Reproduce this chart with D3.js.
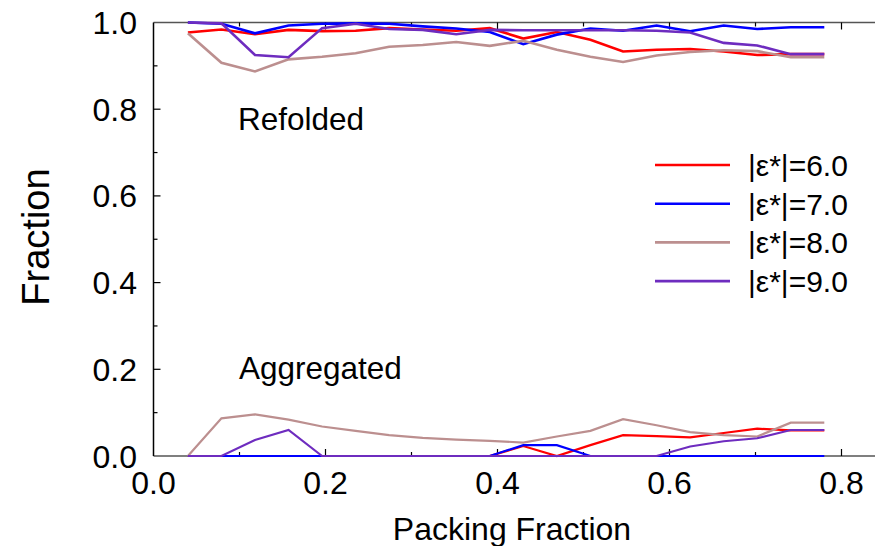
<!DOCTYPE html>
<html>
<head>
<meta charset="utf-8">
<script src="https://cdn.jsdelivr.net/npm/d3@7"></script>
<style>
  body { margin: 0; background: #fff; }
  svg { display: block; font-family: "Liberation Sans", Arial, sans-serif; }
</style>
</head>
<body>
<svg id="chart" width="875" height="546"></svg>
<script>
// packing fraction sample points
const packing = [0.040, 0.079, 0.118, 0.157, 0.196, 0.235, 0.274, 0.313, 0.352, 0.391,
                 0.430, 0.469, 0.508, 0.546, 0.585, 0.624, 0.663, 0.702, 0.741, 0.780];

const seriesNames = ["|ε*|=6.0", "|ε*|=7.0", "|ε*|=8.0", "|ε*|=9.0"];

// refolded fraction
const refolded6 = [0.977, 0.984, 0.973, 0.983, 0.980, 0.981, 0.987, 0.984, 0.981, 0.987,
                   0.963, 0.978, 0.960, 0.933, 0.937, 0.939, 0.933, 0.925, 0.927, 0.927];
const refolded7 = [1.000, 0.997, 0.975, 0.993, 0.997, 0.998, 0.997, 0.991, 0.986, 0.978,
                   0.950, 0.972, 0.986, 0.981, 0.993, 0.980, 0.993, 0.985, 0.989, 0.989];
const refolded8 = [0.975, 0.907, 0.887, 0.915, 0.921, 0.929, 0.944, 0.948, 0.955, 0.946,
                   0.958, 0.937, 0.921, 0.909, 0.924, 0.932, 0.936, 0.934, 0.920, 0.920];
const refolded9 = [1.000, 0.998, 0.925, 0.920, 0.987, 0.997, 0.985, 0.983, 0.973, 0.983,
                   0.982, 0.982, 0.982, 0.982, 0.981, 0.977, 0.953, 0.947, 0.927, 0.927];

// aggregated fraction
const aggregated6 = [0, 0, 0, 0, 0, 0, 0, 0, 0, 0,
                     0.023, 0, 0.025, 0.048, 0.046, 0.043, 0.053, 0.063, 0.059, 0.059];
const aggregated7 = [0, 0, 0, 0, 0, 0, 0, 0, 0, 0,
                     0.025, 0.025, 0, 0, 0, 0, 0, 0, 0, 0];
const aggregated8 = [0, 0.087, 0.096, 0.084, 0.068, 0.058, 0.048, 0.042, 0.038, 0.035,
                     0.031, 0.045, 0.058, 0.085, 0.071, 0.055, 0.048, 0.045, 0.077, 0.077];
const aggregated9 = [0, 0, 0.037, 0.060, 0, 0, 0, 0, 0, 0,
                     0, 0, 0, 0, 0, 0.022, 0.034, 0.041, 0.060, 0.060];

const xTicks = [0.0, 0.2, 0.4, 0.6, 0.8];
const yTicks = [0.0, 0.2, 0.4, 0.6, 0.8, 1.0];

const colors = ["#ff0000", "#0000ff", "#bc8f8f", "#6e2cbf"];

const refolded = [refolded6, refolded7, refolded8, refolded9];
const aggregated = [aggregated6, aggregated7, aggregated8, aggregated9];

const svg = d3.select("#chart");
const W = 875, H = 546;

let x = d3.scaleLinear().domain([0, 0.85]).range([153.5, 884.5]);
let y = d3.scaleLinear().domain([0, 1]).range([456, 22.5]);

// frame lines (top / bottom run off the right edge)
svg.append("line").attr("x1", x(0)).attr("x2", W).attr("y1", y(1)).attr("y2", y(1))
    .attr("stroke", "#555").attr("stroke-width", 1.5);
svg.append("line").attr("x1", x(0)).attr("x2", W).attr("y1", y(0)).attr("y2", y(0))
    .attr("stroke", "#555").attr("stroke-width", 1.5);
svg.append("line").attr("x1", x(0)).attr("x2", x(0)).attr("y1", y(1)).attr("y2", y(0))
    .attr("stroke", "#000").attr("stroke-width", 1.5);

// inward ticks
let minorX = d3.range(1, 9).map(d => d / 10);
let minorY = d3.range(1, 10).map(d => d / 10);
let tickG = svg.append("g").attr("stroke", "#000").attr("stroke-width", 1.2);
tickG.selectAll(".xb").data(minorX).enter().append("line")
    .attr("x1", d => x(d)).attr("x2", d => x(d))
    .attr("y1", y(0)).attr("y2", (d, i) => y(0) - (i % 2 ? 7 : 4));
tickG.selectAll(".xt").data(minorX).enter().append("line")
    .attr("x1", d => x(d)).attr("x2", d => x(d))
    .attr("y1", y(1)).attr("y2", (d, i) => y(1) + (i % 2 ? 7 : 4));
tickG.selectAll(".yl").data(minorY).enter().append("line")
    .attr("x1", x(0)).attr("x2", (d, i) => x(0) + (i % 2 ? 7 : 4))
    .attr("y1", d => y(d)).attr("y2", d => y(d));

// tick labels
svg.selectAll(".xlab").data(xTicks).enter().append("text")
    .attr("x", d => x(d)).attr("y", 494)
    .attr("text-anchor", "middle").attr("font-size", 32)
    .text(d => d3.format(".1f")(d));
svg.selectAll(".ylab").data(yTicks).enter().append("text")
    .attr("x", 137).attr("y", d => y(d) + 11.5)
    .attr("text-anchor", "end").attr("font-size", 32)
    .text(d => d3.format(".1f")(d));

// axis titles
svg.append("text").attr("x", 512).attr("y", 540).attr("text-anchor", "middle")
    .attr("font-size", 32).text("Packing Fraction");
svg.append("text").attr("transform", "translate(49,237) rotate(-90)")
    .attr("text-anchor", "middle").attr("font-size", 38).text("Fraction");

// annotations
svg.append("text").attr("x", 238).attr("y", 130).attr("font-size", 31.5).text("Refolded");
svg.append("text").attr("x", 239).attr("y", 379).attr("font-size", 31.5).text("Aggregated");

// data lines
let line = d3.line().x((d, i) => x(packing[i])).y(d => y(d));
let lineG = svg.append("g");
refolded.forEach((s, k) => {
    lineG.append("path").datum(s).attr("d", line)
        .attr("fill", "none").attr("stroke", colors[k]).attr("stroke-width", 2.6)
        .attr("stroke-linejoin", "miter");
});
aggregated.forEach((s, k) => {
    lineG.append("path").datum(s).attr("d", line)
        .attr("fill", "none").attr("stroke", colors[k]).attr("stroke-width", 2.2)
        .attr("stroke-linejoin", "miter");
});

// legend
let leg = svg.append("g");
seriesNames.forEach((name, k) => {
    let ly = 165 + k * 38.7;
    leg.append("line").attr("x1", 655).attr("x2", 730).attr("y1", ly).attr("y2", ly)
        .attr("stroke", colors[k]).attr("stroke-width", 2.6);
    leg.append("text").attr("x", 748).attr("y", ly + 11).attr("font-size", 30).text(name);
});
</script>
</body>
</html>
